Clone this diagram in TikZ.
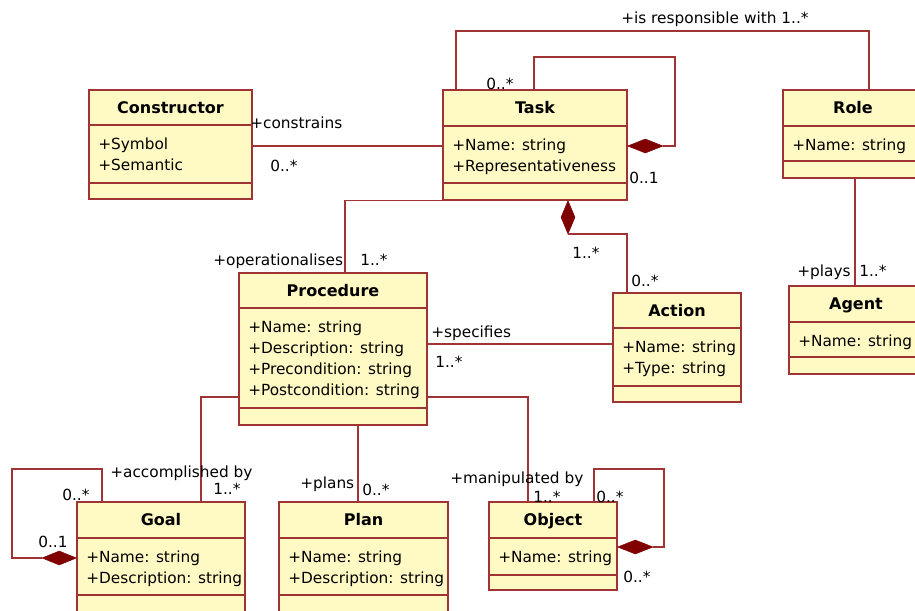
\documentclass[tikz,border=0pt]{standalone}
\usepackage{fontspec}
\setmainfont{DejaVu Sans}
\usetikzlibrary{fit,calc}

\definecolor{umlline}{RGB}{160,52,52}
\definecolor{umlfill}{RGB}{255,250,195}
\definecolor{umldiam}{RGB}{128,0,0}

\tikzset{
  classbox/.style={draw=umlline, fill=umlfill, line width=0.9pt, inner sep=0pt},
  divider/.style={draw=umlline, line width=0.9pt},
  assoc/.style={draw=umlline, line width=0.9pt},
  classtitle/.style={font=\bfseries\fontsize{12}{14}\selectfont, inner sep=0pt, anchor=base},
  attrs/.style={font=\fontsize{11.5}{15.75}\selectfont, inner sep=0pt, anchor=base west},
  rolelabel/.style={font=\fontsize{11.5}{14}\selectfont, inner sep=0pt, anchor=base west},
  compdiamond/.style={fill=umldiam, draw=umldiam, line width=0.3pt},
}

% class box: name, x1, y1, x2, y2, title divider y, attribute divider y, title, attributes
\newcommand\umlclass[9]{%
  \node[classbox, fit={(#2,#3) (#4,#5)}] (#1) {};
  \draw[divider] (#1.west |- 0,#6) -- (#1.east |- 0,#6);
  \draw[divider] (#1.west |- 0,#7) -- (#1.east |- 0,#7);
  \node[classtitle] (#1-title) at ({(#2+#4)/2},{#3+23}) {#8};
  \node[attrs] (#1-attrs) at ({#2+9},{#6+24})
    {\begin{tabular}[t]{@{}l@{}}#9\end{tabular}};
}

% filled composition diamonds
\newcommand\hdiamond[2]{% left tip, right tip (horizontal)
  \fill[compdiamond] (#1) -- ($(#1)!0.5!(#2)+(0,-7)$) -- (#2) -- ($(#1)!0.5!(#2)+(0,7)$) -- cycle;}
\newcommand\vdiamond[2]{% top tip, bottom tip (vertical)
  \fill[compdiamond] (#1) -- ($(#1)!0.5!(#2)+(7,0)$) -- (#2) -- ($(#1)!0.5!(#2)+(-7,0)$) -- cycle;}

\begin{document}
\begin{tikzpicture}[x=0.75pt, y=-0.75pt]
\useasboundingbox (0,0) rectangle (915,611);
\fill[white] (0,0) rectangle (915,611);
\clip (0,0) rectangle (915,611);

% classes
\umlclass{constructor}{89}{90}{252}{199}{125}{183}{Constructor}{+Symbol\\+Semantic}
\umlclass{task}{443}{90}{627}{200}{126}{183}{Task}{+Name: string\\+Representativeness}
\umlclass{role}{783}{90}{923}{178}{126}{161}{Role}{+Name: string}
\umlclass{proc}{239}{273}{427}{425}{308}{408}{Procedure}{+Name: string\\+Description: string\\+Precondition: string\\+Postcondition: string}
\umlclass{action}{613}{293}{741}{402}{328}{386}{Action}{+Name: string\\+Type: string}
\umlclass{agent}{789}{286}{923}{374}{322}{357}{Agent}{+Name: string}
\umlclass{goal}{77}{502}{245}{616}{538}{595}{Goal}{+Name: string\\+Description: string}
\umlclass{plan}{279}{502}{448}{616}{538}{595}{Plan}{+Name: string\\+Description: string}
\umlclass{object}{489}{502}{617}{590}{538}{575}{Object}{+Name: string}

% Task -- Role
\draw[assoc] (task.north -| 456,0) |- (869,31) -- (role.north -| 869,0);
\node[rolelabel] (lresp) at (621,23) {+is responsible with 1..*};

% Task self composition
\coordinate (taskdiam) at (663,146);
\draw[assoc] (task.north -| 534,0) |- (675,57) |- (taskdiam);
\hdiamond{task.east |- 0,146}{taskdiam}
\node[rolelabel] (ltask0) at (486,89) {0..*};
\node[rolelabel] (ltask1) at (629,183) {0..1};

% Constructor -- Task
\draw[assoc] (constructor.east |- 0,146) -- (task.west |- 0,146);
\node[rolelabel] (lcons) at (250,128) {+constrains};
\node[rolelabel] (lcons0) at (270,171) {0..*};

% Procedure -- Task
\draw[assoc] (task.south west) -| (proc.north -| 345,0);
\node[rolelabel] (lop) at (213,265) {+operationalises};
\node[rolelabel] (lop1) at (360,265) {1..*};

% Task composition of Action
\coordinate (actdiam) at (568,234);
\vdiamond{task.south -| 568,0}{actdiam}
\draw[assoc] (actdiam) -| (action.north -| 627,0);
\node[rolelabel] (lact1) at (572,258) {1..*};
\node[rolelabel] (lact0) at (631,286) {0..*};

% Procedure -- Action
\draw[assoc] (proc.east |- 0,344) -- (action.west |- 0,344);
\node[rolelabel] (lspec) at (431,337) {+specifies};
\node[rolelabel] (lspec1) at (435,367) {1..*};

% Role -- Agent
\draw[assoc] (role.south -| 855,0) -- (agent.north -| 855,0);
\node[rolelabel] (lplays) at (797,276) {+plays};
\node[rolelabel] (lplays1) at (859,276) {1..*};

% Procedure -- Goal
\draw[assoc] (proc.west |- 0,397) -| (goal.north -| 201,0);
\node[rolelabel] (lacc) at (110,477) {+accomplished by};
\node[rolelabel] (lacc1) at (213,494) {1..*};

% Goal self composition
\coordinate (goaldiam) at (42,558);
\draw[assoc] (goal.north -| 102,0) |- (12,469) |- (goaldiam);
\hdiamond{goaldiam}{goal.west |- 0,558}
\node[rolelabel] (lgoal0) at (62,500) {0..*};
\node[rolelabel] (lgoal1) at (38,547) {0..1};

% Procedure -- Plan
\draw[assoc] (proc.south -| 358,0) -- (plan.north -| 358,0);
\node[rolelabel] (lplans) at (300,488) {+plans};
\node[rolelabel] (lplans0) at (362,495) {0..*};

% Procedure -- Object
\draw[assoc] (proc.east |- 0,397) -| (object.north -| 528,0);
\node[rolelabel] (lman) at (450,483) {+manipulated by};
\node[rolelabel] (lman1) at (533,502) {1..*};

% Object self composition
\coordinate (objdiam) at (653,547);
\draw[assoc] (object.north -| 594,0) |- (664,469) |- (objdiam);
\hdiamond{object.east |- 0,547}{objdiam}
\node[rolelabel] (lobj0) at (596,502) {0..*};
\node[rolelabel] (lobj1) at (623,582) {0..*};
\end{tikzpicture}
\end{document}
